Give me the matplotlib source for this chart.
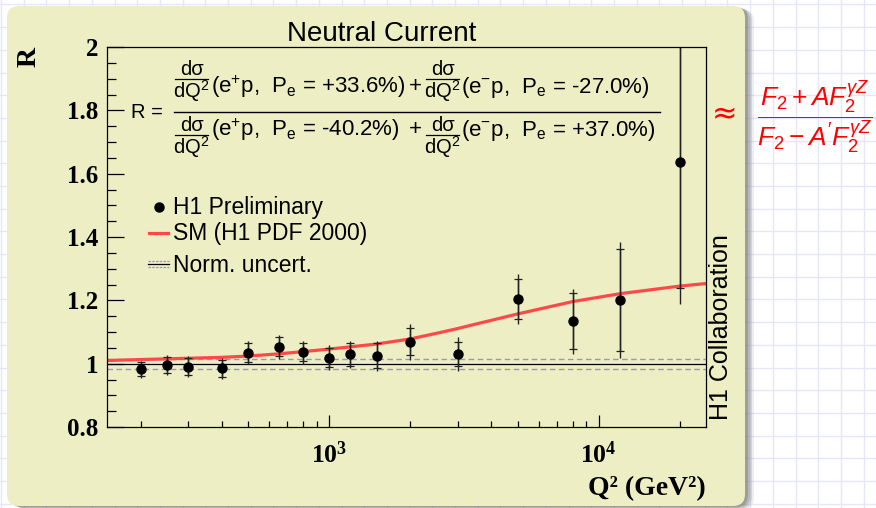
import matplotlib.pyplot as plt
import matplotlib.transforms as mtransforms
from matplotlib.patches import FancyBboxPatch
from matplotlib.lines import Line2D
from matplotlib.ticker import FixedLocator, MultipleLocator, NullFormatter

plt.rcParams['mathtext.fontset'] = 'custom'
plt.rcParams['mathtext.rm'] = 'Liberation Sans'
plt.rcParams['mathtext.it'] = 'Liberation Sans:italic'
plt.rcParams['mathtext.bf'] = 'Liberation Serif:bold'
plt.rcParams['mathtext.sf'] = 'Liberation Sans'

# H1 preliminary points
q2 = [200, 250, 300, 400, 500, 650, 800, 1000, 1200, 1500, 2000, 3000, 5000, 8000, 12000, 20000]
r_val = [0.983, 0.996, 0.990, 0.986, 1.035, 1.054, 1.036, 1.019, 1.029, 1.025, 1.069, 1.031,
         1.203, 1.134, 1.201, 1.638]
err_tot = [0.027, 0.031, 0.033, 0.033, 0.037, 0.038, 0.037, 0.039, 0.044, 0.047, 0.057, 0.054,
           0.079, 0.102, 0.184, 0.448]
err_stat = [0.022, 0.025, 0.027, 0.027, 0.030, 0.031, 0.028, 0.031, 0.035, 0.040, 0.043, 0.039,
            0.063, 0.088, 0.160, 0.400]

# SM curve (H1 PDF 2000)
sm_q2 = [150, 200, 300, 400, 500, 650, 800, 1000, 1500, 2000, 2600, 3000, 3500, 5000, 8000,
         12000, 20000, 25000]
sm_r = [1.010, 1.013, 1.017, 1.020, 1.024, 1.031, 1.038, 1.046, 1.062, 1.078, 1.099, 1.111, 1.125,
        1.157, 1.196, 1.221, 1.245, 1.253]

norm_up = 1.016
norm_dn = 0.984

y_ticks = [0.8, 1.0, 1.2, 1.4, 1.6, 1.8, 2.0]
y_ticklabels = ['0.8', '1', '1.2', '1.4', '1.6', '1.8', '2']
x_ticks = [1e3, 1e4]
x_ticklabels = [r'$\mathbf{10^{3}}$', r'$\mathbf{10^{4}}$']
x_minor = [200, 300, 400, 500, 600, 700, 800, 900,
           2000, 3000, 4000, 5000, 6000, 7000, 8000, 9000, 20000]

W, H = 876, 508
fig = plt.figure(figsize=(W / 100, H / 100), dpi=100)
fig.patch.set_facecolor('white')


def fx(x):
    return x / W


def fy(y):
    return 1 - y / H


# grid paper background
k = 0
while 1 + 22.7 * k < W:
    xx = fx(1 + 22.7 * k)
    fig.add_artist(Line2D([xx, xx], [0, 1], color='#e6e6fa', lw=1.0, zorder=0))
    k += 1
k = 0
while 4.4 + 22.7 * k < H:
    yy = fy(4.4 + 22.7 * k)
    fig.add_artist(Line2D([0, 1], [yy, yy], color='#e6e6fa', lw=1.0, zorder=0))
    k += 1

# khaki block with shadow
ident = mtransforms.IdentityTransform()
for off, a in [(9, 0.12), (7, 0.2), (5, 0.3), (3, 0.4)]:
    fig.add_artist(FancyBboxPatch((7 + off, 2 - off * 0.4), 738, 500,
                                  boxstyle='round,pad=0,rounding_size=12',
                                  facecolor='#777777', edgecolor='none', alpha=a,
                                  transform=ident, zorder=1))
fig.add_artist(FancyBboxPatch((7, 2), 738, 500, boxstyle='round,pad=0,rounding_size=12',
                              facecolor='#eeeec4', edgecolor='none', transform=ident, zorder=2))

ax = fig.add_axes([fx(107), fy(427), (706 - 107) / W, (427 - 47) / H])
ax.set_facecolor('none')
ax.set_zorder(3)

ax.axhline(norm_up, color='#9a9aaa', lw=1.0, ls=(0, (4, 2.5)))
ax.axhline(norm_dn, color='#9a9aaa', lw=1.0, ls=(0, (4, 2.5)))
ax.axhline(1.0, color='black', lw=0.9)
ax.plot(sm_q2, sm_r, color='#ff4848', lw=2.3, solid_capstyle='butt')
ax.errorbar(q2, r_val, yerr=err_tot, fmt='none', ecolor='#222222', elinewidth=1.0)
ax.errorbar(q2, r_val, yerr=err_stat, fmt='o', color='black', ms=6.5,
            ecolor='#222222', elinewidth=1.0, capsize=3, capthick=0.9)

ax.set_xscale('log')
ax.set_xlim(150, 25000)
ax.set_ylim(0.8, 2.0)

ax.set_yticks(y_ticks)
ax.set_yticklabels(y_ticklabels, fontfamily='Liberation Serif', fontweight='bold', fontsize=18)
ax.yaxis.set_minor_locator(MultipleLocator(0.05))
ax.xaxis.set_major_locator(FixedLocator(x_ticks))
ax.set_xticklabels(x_ticklabels, fontsize=18.5)
ax.xaxis.set_minor_locator(FixedLocator(x_minor))
ax.xaxis.set_minor_formatter(NullFormatter())

ax.tick_params(which='both', direction='in', top=False, right=False, width=0.9)
ax.tick_params(axis='y', which='major', length=12, pad=6)
ax.tick_params(axis='y', which='minor', length=6.5)
ax.tick_params(axis='x', which='major', length=8.6, pad=11)
ax.tick_params(axis='x', which='minor', length=4.3)
for s in ax.spines.values():
    s.set_linewidth(0.9)

# titles and axis labels
fig.text(fx(382), fy(41), 'Neutral Current', ha='center', va='baseline',
         fontsize=20, family='Liberation Sans', zorder=5)
fig.text(fx(29), fy(57), 'R', rotation=90, ha='center', va='center',
         family='Liberation Serif', fontweight='bold', fontsize=20, zorder=5)
fig.text(fx(706), fy(495), 'Q² (GeV²)', ha='right', va='baseline',
         family='Liberation Serif', fontweight='bold', fontsize=20, zorder=5)
fig.text(fx(721), fy(327.5), 'H1 Collaboration', rotation=90, ha='center', va='center',
         family='Liberation Sans', fontsize=18, zorder=5)

# ratio formula
fs = 14.5
fs_row = 16
fig.text(fx(131), fy(110), 'R =', ha='left', va='center_baseline', fontsize=fs,
         family='Liberation Sans', zorder=5)
fig.add_artist(Line2D([fx(174), fx(660)], [fy(112), fy(112)], color='black', lw=1.0, zorder=5))


def small_frac(x0, x1, ybar):
    xc = fx((x0 + x1) / 2)
    fig.text(xc, fy(ybar - 3.5), 'dσ', ha='center', va='baseline', fontsize=fs,
             family='Liberation Sans', zorder=5)
    fig.add_artist(Line2D([fx(x0), fx(x1)], [fy(ybar), fy(ybar)], color='black', lw=0.9, zorder=5))
    fig.text(xc, fy(ybar + 19.5), r'dQ$^{2}$', ha='center', va='baseline', fontsize=fs,
             family='Liberation Sans', zorder=5)


rows = [
    (78.5, 93.5, r'(e$^{+}$p,  P$_{\mathrm{e}}$ = +33.6%)', r'(e$^{-}$p,  P$_{\mathrm{e}}$ = -27.0%)'),
    (134.5, 136, r'(e$^{+}$p,  P$_{\mathrm{e}}$ = -40.2%)', r'(e$^{-}$p,  P$_{\mathrm{e}}$ = +37.0%)'),
]
for ybar, ybase, t1, t2 in rows:
    small_frac(175, 208, ybar)
    fig.text(fx(211), fy(ybase), t1, ha='left', va='baseline', fontsize=fs_row,
             family='Liberation Sans', zorder=5)
    fig.text(fx(415), fy(ybase - 1), '+', ha='center', va='baseline', fontsize=fs_row,
             family='Liberation Sans', zorder=5)
    small_frac(426, 459, ybar)
    fig.text(fx(461), fy(ybase), t2, ha='left', va='baseline', fontsize=fs_row,
             family='Liberation Sans', zorder=5)

# legend
fs_leg = 16.5
fig.add_artist(Line2D([fx(159)], [fy(207)], marker='o', color='black', ms=6.5, zorder=5))
fig.text(fx(173), fy(214), 'H1 Preliminary', ha='left', va='baseline', fontsize=fs_leg,
         family='Liberation Sans', zorder=5)
fig.add_artist(Line2D([fx(149), fx(168)], [fy(233), fy(233)], color='#ff4848', lw=2.3, zorder=5))
fig.text(fx(173), fy(240), 'SM (H1 PDF 2000)', ha='left', va='baseline', fontsize=fs_leg,
         family='Liberation Sans', zorder=5)
for yy, c, st in [(260.7, '#9a9aaa', (0, (2, 1))), (264, 'black', '-'), (267.3, '#9a9aaa', (0, (2, 1)))]:
    fig.add_artist(Line2D([fx(148), fx(169)], [fy(yy), fy(yy)], color=c, lw=0.9, ls=st, zorder=5))
fig.text(fx(173), fy(272), 'Norm. uncert.', ha='left', va='baseline', fontsize=fs_leg,
         family='Liberation Sans', zorder=5)

# approximation on the right
fig.text(fx(724.5), fy(115), '≈', ha='center', va='center', fontsize=22, color='red',
         family='DejaVu Sans', zorder=5)
fig.text(fx(815), fy(117), r'$\dfrac{F_2 + A F_2^{\gamma Z}}{F_2 - A^{\prime} F_2^{\gamma Z}}$',
         ha='center', va='center', fontsize=19, color='red', zorder=5)

fig.savefig('out.png', dpi=100)
